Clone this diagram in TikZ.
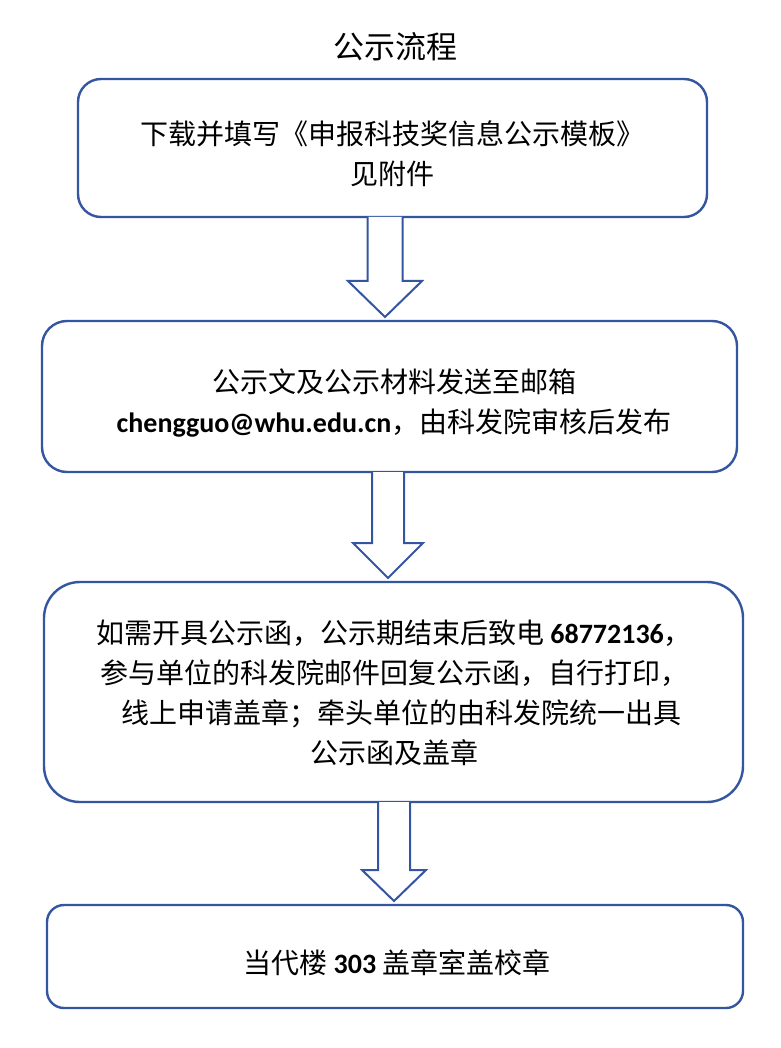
\documentclass[tikz,border=0pt]{standalone}
\usepackage{fontspec}
\setmainfont{Noto Sans CJK SC}
\newfontfamily\latb{Carlito}
\usetikzlibrary{calc}
\definecolor{boxblue}{RGB}{52,86,160}
\newcommand{\lb}[1]{{\latb\bfseries #1}}
\tikzset{
  flowbox/.style={draw=boxblue, line width=2.4pt, fill=white},
  txt/.style={inner sep=0pt, align=center, font=\fontsize{28}{40}\selectfont},
  blockarrow/.style={draw=boxblue, line width=2pt, fill=white, line join=miter},
}
% #1 from node, #2 to node, #3 centre x, #4 half shaft, #5 half head, #6 head length
\newcommand{\blkarrow}[6]{%
  \draw[blockarrow] let \p1=(#1.south), \p2=(#2.north) in
    ({#3-#4},\y1) -- ({#3-#4},{\y2+4pt+#6 pt}) -- ({#3-#5},{\y2+4pt+#6 pt})
    -- (#3,{\y2+4pt}) -- ({#3+#5},{\y2+4pt+#6 pt}) -- ({#3+#4},{\y2+4pt+#6 pt})
    -- ({#3+#4},\y1);
}
\begin{document}
\begin{tikzpicture}[x=1pt,y=-1pt]
\useasboundingbox (0,0) rectangle (780,1048);
\fill[white] (0,0) rectangle (780,1048);

\node[inner sep=0pt, font=\fontsize{31}{36}\selectfont] (title) at (395,47) {公示流程};

% boxes
\draw[flowbox, rounded corners=23pt] (78,79) rectangle (707,217);
\coordinate (b1s) at (392.5,217);
\node[txt] (t1) at (392,154) {下载并填写《申报科技奖信息公示模板》\\见附件};

\draw[flowbox, rounded corners=25pt] (42,321) rectangle (737,472);
\coordinate (b2n) at (389.5,321);
\coordinate (b2s) at (389.5,472);
\node[txt] (t2) at (394,403) {公示文及公示材料发送至邮箱\\\lb{chengguo@whu.edu.cn}，由科发院审核后发布};

\draw[flowbox, rounded corners=36pt] (44,582) rectangle (743,802);
\coordinate (b3n) at (393.5,582);
\coordinate (b3s) at (393.5,802);
\node[txt] (t3) at (394,693) {如需开具公示函，公示期结束后致电 \lb{68772136}，\\参与单位的科发院邮件回复公示函，自行打印，\\\hspace*{0.5em}线上申请盖章；牵头单位的由科发院统一出具\\公示函及盖章};

\draw[flowbox, rounded corners=17pt] (47,905) rectangle (743,1008);
\coordinate (b4n) at (395,905);
\node[txt] (t4) at (397,963) {当代楼 \lb{303} 盖章室盖校章};

% block arrows
\blkarrow{b1s}{b2n}{385}{17.5}{37}{36}
\blkarrow{b2s}{b3n}{388}{16}{35}{35}
\blkarrow{b3s}{b4n}{394}{16}{32}{31}
\end{tikzpicture}
\end{document}
